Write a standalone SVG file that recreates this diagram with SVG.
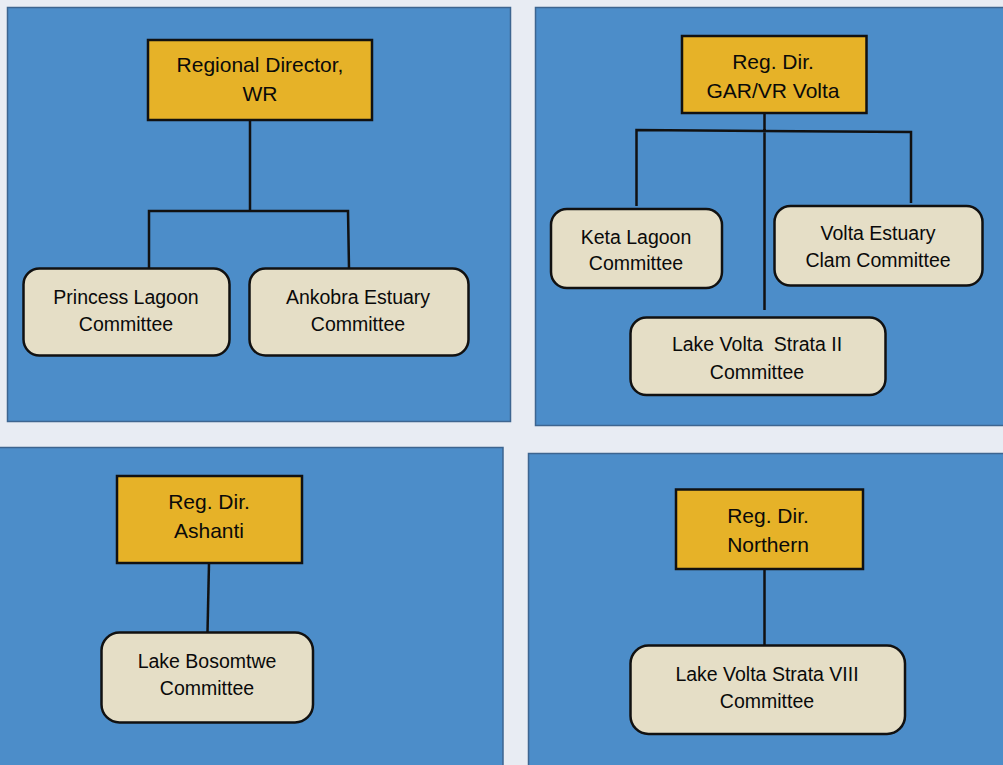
<svg xmlns="http://www.w3.org/2000/svg" width="1003" height="765" viewBox="0 0 1003 765">
<style>
.panel{fill:#4C8DC9;stroke:#3D6590;stroke-width:1.5}
.dir{fill:#E6B228;stroke:#111;stroke-width:2.5}
.com{fill:#E5DEC6;stroke:#111;stroke-width:2.5}
.conn{fill:none;stroke:#111;stroke-width:2.5}
text{font-family:"Liberation Sans",Arial,sans-serif;fill:#0a0a0a;text-anchor:middle}
.h{font-size:21px}
.c{font-size:19.5px}
</style>
<rect x="0" y="0" width="1003" height="765" fill="#E8ECF3"/>
<g id="panels">
<rect class="panel" x="7.5" y="7.5" width="503" height="414"/>
<rect class="panel" x="535.5" y="7.5" width="480" height="418"/>
<rect class="panel" x="-2" y="447.5" width="505" height="330"/>
<rect class="panel" x="528.5" y="453.5" width="490" height="330"/>
</g>
<g id="connectors">
<path class="conn" d="M250 120 V211 M149 268 V211 H348 L349 268"/>
<path class="conn" d="M764.5 113 V310 M636.5 206 V130 L911 132 V203"/>
<path class="conn" d="M209 563 L207.5 632"/>
<path class="conn" d="M764.5 569 V645"/>
</g>
<g id="rd-wr">
<rect class="dir" x="148" y="40" width="224" height="80"/>
<text class="h" x="260" y="72">Regional Director,</text>
<text class="h" x="260" y="101">WR</text>
</g>
<g id="princess-lagoon">
<rect class="com" x="23.5" y="268.5" width="206" height="87" rx="16"/>
<text class="c" x="126" y="304">Princess Lagoon</text>
<text class="c" x="126" y="331">Committee</text>
</g>
<g id="ankobra-estuary">
<rect class="com" x="249.5" y="268.5" width="219" height="87" rx="16"/>
<text class="c" x="358" y="304">Ankobra Estuary</text>
<text class="c" x="358" y="331">Committee</text>
</g>
<g id="rd-gar">
<rect class="dir" x="682" y="36" width="184.5" height="77"/>
<text class="h" x="773" y="69">Reg. Dir.</text>
<text class="h" x="773" y="98">GAR/VR Volta</text>
</g>
<g id="keta-lagoon">
<rect class="com" x="551" y="209" width="171" height="79" rx="16"/>
<text class="c" x="636" y="244">Keta Lagoon</text>
<text class="c" x="636" y="270">Committee</text>
</g>
<g id="volta-estuary">
<rect class="com" x="774.5" y="206" width="208" height="79.5" rx="16"/>
<text class="c" x="878" y="240">Volta Estuary</text>
<text class="c" x="878" y="267">Clam Committee</text>
</g>
<g id="lake-volta-ii">
<rect class="com" x="630.5" y="317.5" width="255" height="77.5" rx="16"/>
<text class="c" x="757" y="351">Lake Volta&#160; Strata II</text>
<text class="c" x="757" y="379">Committee</text>
</g>
<g id="rd-ashanti">
<rect class="dir" x="117" y="476" width="185" height="87" />
<text class="h" x="209" y="509">Reg. Dir.</text>
<text class="h" x="209" y="538">Ashanti</text>
</g>
<g id="lake-bosomtwe">
<rect class="com" x="101.5" y="632.5" width="211.5" height="90" rx="18"/>
<text class="c" x="207" y="668">Lake Bosomtwe</text>
<text class="c" x="207" y="695">Committee</text>
</g>
<g id="rd-northern">
<rect class="dir" x="676" y="489.5" width="187" height="79.5"/>
<text class="h" x="768" y="523">Reg. Dir.</text>
<text class="h" x="768" y="552">Northern</text>
</g>
<g id="lake-volta-viii">
<rect class="com" x="630.5" y="645.5" width="274.5" height="88.5" rx="18"/>
<text class="c" x="767" y="681">Lake Volta Strata VIII</text>
<text class="c" x="767" y="708">Committee</text>
</g>
</svg>
